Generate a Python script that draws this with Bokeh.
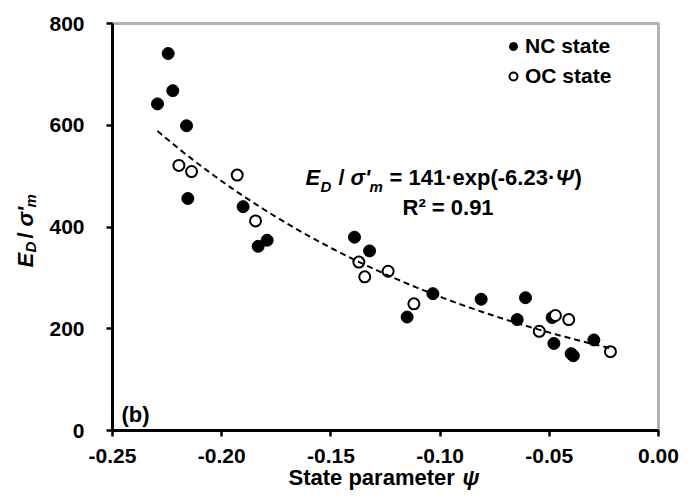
import numpy as np
from bokeh.plotting import figure
from bokeh.models import (Label, Legend, LegendItem, FixedTicker, Range1d, LinearAxis,
                          BoxAnnotation)
from bokeh.embed import file_html
from bokeh.resources import INLINE

# ---- data ----
psi_nc = [-0.2294, -0.2245, -0.2224, -0.2161, -0.2155, -0.1902, -0.1833, -0.1792,
          -0.1392, -0.1323, -0.1151, -0.1033, -0.0812, -0.0647, -0.0609, -0.0487,
          -0.0479, -0.0400, -0.0390, -0.0296]
ed_nc = [642, 741, 668, 599, 456, 440, 362, 374,
         380, 353, 223, 269, 258, 218, 261, 222,
         171, 151, 147, 178]
psi_oc = [-0.2196, -0.2138, -0.1929, -0.1845, -0.1372, -0.1345, -0.1238, -0.1120,
          -0.0546, -0.0472, -0.0411, -0.0220]
ed_oc = [521, 509, 502, 412, 331, 302, 313, 249, 195, 226, 218, 155]

x_ticks = [-0.25, -0.20, -0.15, -0.10, -0.05, 0.00]
x_tick_labels = ["-0.25", "-0.20", "-0.15", "-0.10", "-0.05", "0.00"]
y_ticks = [0, 200, 400, 600, 800]
y_tick_labels = ["0", "200", "400", "600", "800"]
x_lo, x_hi = -0.25, 0.0
y_lo, y_hi = 0, 800

fit_a = 141.0
fit_b = -6.23
fit_r2 = "0.91"

FONT = "Liberation Sans"

# ---- layout: the plot box occupies canvas pixels 112..658 (x), 23..430 (y) ----
W, H = 686, 490
BOX_L, BOX_R, BOX_T, BOX_B = 112, 658, 23, 430
sx = (x_hi - x_lo) / (BOX_R - BOX_L)
sy = (y_hi - y_lo) / (BOX_B - BOX_T)

def dx(px):
    return x_lo + (px - BOX_L) * sx

def dy(py):
    return y_lo + (BOX_B - py) * sy

p = figure(width=W, height=H, x_range=Range1d(dx(0), dx(W)), y_range=Range1d(dy(H), dy(0)),
           output_backend="svg", toolbar_location=None,
           x_axis_location=None, y_axis_location=None,
           min_border_left=0, min_border_right=0, min_border_top=0, min_border_bottom=0)
p.background_fill_color = "white"
p.border_fill_color = "white"
p.outline_line_color = None
p.grid.visible = False

xaxis = LinearAxis(fixed_location=y_lo, bounds=(x_lo, x_hi))
yaxis = LinearAxis(fixed_location=x_lo, bounds=(y_lo, y_hi))
p.add_layout(xaxis, "below")
p.add_layout(yaxis, "left")

for ax in (xaxis, yaxis):
    ax.axis_line_width = 3
    ax.axis_line_color = "black"
    ax.major_tick_line_width = 2.5
    ax.major_tick_line_color = "black"
    ax.major_tick_in = 0
    ax.major_tick_out = 6
    ax.minor_tick_line_color = None
    ax.major_label_text_font = FONT
    ax.major_label_text_font_style = "bold"
    ax.major_label_text_font_size = "21px"
    ax.major_label_text_color = "black"

xaxis.ticker = FixedTicker(ticks=x_ticks)
xaxis.major_label_overrides = {t: s for t, s in zip(x_ticks, x_tick_labels)}
yaxis.ticker = FixedTicker(ticks=y_ticks)
yaxis.major_label_overrides = {t: s for t, s in zip(y_ticks, y_tick_labels)}
xaxis.major_label_standoff = 12
yaxis.major_label_standoff = 22

# plot-area border (top/right sides; left/bottom coincide with the axes)
p.add_layout(BoxAnnotation(left=x_lo, right=x_hi, bottom=y_lo, top=y_hi,
                           fill_color=None, fill_alpha=0,
                           line_color="black", line_width=3))

# ---- data marks ----
r_nc = p.scatter(psi_nc, ed_nc, marker="circle", size=12, fill_color="black", line_color="black")
r_oc = p.scatter(psi_oc, ed_oc, marker="circle", size=11, fill_color="white",
                 line_color="black", line_width=2)

# trendline defined by the equation shown in the chart
all_psi = psi_nc + psi_oc
xs = np.linspace(min(all_psi), max(all_psi), 120)
p.line(xs, fit_a * np.exp(fit_b * xs), line_color="black", line_width=2, line_dash="6 4")

# ---- legend ----
legend = Legend(items=[LegendItem(label="NC state", renderers=[r_nc]),
                       LegendItem(label="OC state", renderers=[r_oc])],
                location=(503, 402), orientation="vertical",
                glyph_width=20, glyph_height=24, label_height=24, spacing=6,
                padding=4, margin=0, label_standoff=2,
                label_text_font=FONT, label_text_font_style="bold",
                label_text_font_size="21px", label_text_color="black",
                background_fill_alpha=0, border_line_color=None)
p.add_layout(legend)

def add_text(px, py, text, size="22px", style="bold", angle=0.0):
    p.add_layout(Label(x=dx(px), y=dy(py), text=text, text_font=FONT,
                       text_font_size=size, text_font_style=style, text_color="black",
                       text_align="left", text_baseline="middle", angle=angle))

# equation, line 1
add_text(305, 177, "E", style="bold italic")
add_text(320, 186, "D", size="15px", style="bold italic")
add_text(338, 177, "/")
add_text(350, 177, "σ'", style="bold italic")
add_text(369, 186, "m", size="15px", style="bold italic")
add_text(389, 177, "= " + str(int(fit_a)) + "·")
add_text(452, 177, "exp(" + str(fit_b) + "·")
add_text(555, 177, "Ψ", style="bold italic")
add_text(574, 177, ")")
# equation, line 2
add_text(402, 207, "R² = " + fit_r2)

# panel tag
add_text(121, 414, "(b)")

# x-axis title
add_text(288, 477, "State parameter")
add_text(462, 477, "ψ", style="bold italic")

# y-axis title (rotated)
ang = np.pi / 2
add_text(25, 267, "E", style="bold italic", angle=ang)
add_text(30, 252, "D", size="15px", style="bold italic", angle=ang)
add_text(25, 238, "/", angle=ang)
add_text(25, 226, "σ'", style="bold italic", angle=ang)
add_text(30, 207, "m", size="15px", style="bold italic", angle=ang)

open("out.html", "w").write(file_html(p, INLINE))
